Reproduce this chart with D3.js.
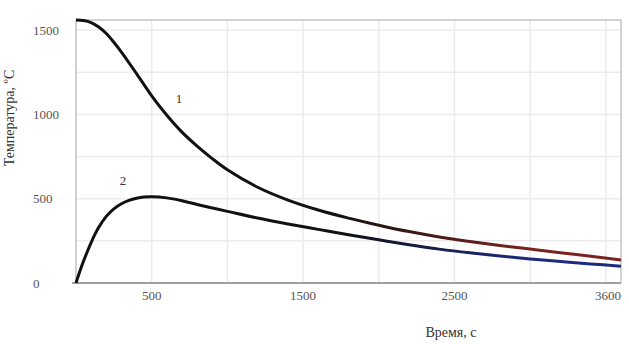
<!DOCTYPE html>
<html>
<head>
  <meta charset="utf-8">
  <script src="https://d3js.org/d3.v7.min.js"></script>
  <style type="text/css">
    body { margin: 0; background: #fff; }
    text { font-family: "Liberation Serif", "Times New Roman", serif; }
  </style>
</head>
<body>
<svg id="chart" width="629" height="344"></svg>
<script>
  // curve 1 (upper)
  const time1 = [0, 50, 100, 150, 200, 250, 300, 400, 500, 600, 700, 800, 900, 1000, 1200, 1400, 1600, 1800, 2000, 2200, 2400, 2600, 2800, 3000, 3200, 3400, 3600];
  const temp1 = [1560, 1557, 1545, 1518, 1480, 1428, 1370, 1242, 1110, 995, 895, 812, 738, 672, 568, 492, 433, 385, 343, 305, 273, 246, 222, 201, 180, 158, 137];
  // curve 2 (lower)
  const time2 = [0, 25, 50, 75, 100, 125, 150, 200, 250, 300, 350, 400, 450, 500, 600, 700, 800, 900, 1000, 1200, 1400, 1600, 1800, 2000, 2200, 2400, 2600, 2800, 3000, 3200, 3400, 3600];
  const temp2 = [0, 68, 130, 187, 240, 288, 330, 395, 440, 470, 490, 503, 510, 512, 505, 488, 466, 445, 425, 385, 350, 318, 286, 256, 227, 201, 179, 160, 143, 128, 113, 100];

  const xTicks = [500, 1500, 2500, 3600];
  const yTicks = [0, 500, 1000, 1500];
  const xGrid = [500, 1000, 1500, 2000, 2500, 3000, 3500];
  const yGrid = [250, 500, 750, 1000, 1250, 1500];

  const chart = d3.select('#chart');
  const x = d3.scaleLinear().domain([0, 3600]).range([76, 621]);
  const y = d3.scaleLinear().domain([0, 1560]).range([283, 20]);

  // grid
  chart.append('g').selectAll('line').data(xGrid).join('line')
    .attr('x1', d => x(d)).attr('x2', d => x(d))
    .attr('y1', y(1560)).attr('y2', y(0))
    .attr('stroke', '#ebebeb').attr('stroke-width', 1.5);
  chart.append('g').selectAll('line').data(yGrid).join('line')
    .attr('x1', x(0)).attr('x2', x(3600))
    .attr('y1', d => y(d)).attr('y2', d => y(d))
    .attr('stroke', '#ebebeb').attr('stroke-width', 1.5);

  // frame
  chart.append('line').attr('x1', x(0)).attr('x2', x(3600)).attr('y1', y(1560)).attr('y2', y(1560))
    .attr('stroke', '#a8a8a8').attr('stroke-width', 1.2);
  chart.append('line').attr('x1', x(3600)).attr('x2', x(3600)).attr('y1', y(1560)).attr('y2', y(0))
    .attr('stroke', '#b8b8b8').attr('stroke-width', 1.2);
  chart.append('line').attr('x1', x(0)).attr('x2', x(0)).attr('y1', y(1560)).attr('y2', y(0))
    .attr('stroke', '#b0b0b0').attr('stroke-width', 1.2);
  chart.append('line').attr('x1', x(0) - 4).attr('x2', x(3600)).attr('y1', y(0)).attr('y2', y(0))
    .attr('stroke', '#a0a0a0').attr('stroke-width', 2);

  // tick labels
  chart.append('g').selectAll('text').data(yTicks).join('text')
    .attr('x', 33).attr('y', d => y(d)).attr('dy', '0.35em')
    .attr('font-size', 13).attr('fill', '#555')
    .text(d => d);
  chart.append('g').selectAll('text').data(xTicks).join('text')
    .attr('x', d => x(d)).attr('y', 300)
    .attr('text-anchor', d => d === 3600 ? 'end' : 'middle')
    .attr('font-size', 13).attr('fill', '#555')
    .text(d => d);

  // axis titles
  chart.append('text')
    .attr('transform', 'translate(14 118) rotate(-90)')
    .attr('text-anchor', 'middle')
    .attr('font-size', 14).attr('fill', '#333')
    .text('Температура, ºС');
  chart.append('text')
    .attr('x', 451).attr('y', 337)
    .attr('text-anchor', 'middle')
    .attr('font-size', 14).attr('fill', '#333')
    .text('Время, с');

  // colour fade at the tails
  const defs = chart.append('defs');
  function fade(id, color) {
    const g = defs.append('linearGradient').attr('id', id)
      .attr('gradientUnits', 'userSpaceOnUse')
      .attr('x1', x(1700)).attr('x2', x(3000)).attr('y1', 0).attr('y2', 0);
    g.append('stop').attr('offset', 0).attr('stop-color', '#111');
    g.append('stop').attr('offset', 1).attr('stop-color', color);
  }
  fade('g1', '#7a2420');
  fade('g2', '#1c2a80');

  const line = d3.line()
    .x(d => x(d[0]))
    .y(d => y(d[1]))
    .curve(d3.curveCatmullRom.alpha(0.5));

  chart.append('path')
    .datum(time1.map((t, i) => [t, temp1[i]]))
    .attr('fill', 'none').attr('stroke', 'url(#g1)')
    .attr('stroke-width', 3).attr('d', line);
  chart.append('path')
    .datum(time2.map((t, i) => [t, temp2[i]]))
    .attr('fill', 'none').attr('stroke', 'url(#g2)')
    .attr('stroke-width', 3).attr('d', line);

  // curve labels
  chart.append('text').attr('x', 179).attr('y', 103).attr('text-anchor', 'middle')
    .attr('font-size', 13).attr('fill', '#333').text('1');
  chart.append('text').attr('x', 123).attr('y', 185).attr('text-anchor', 'middle')
    .attr('font-size', 13).attr('fill', '#333').text('2');
</script>
</body>
</html>
